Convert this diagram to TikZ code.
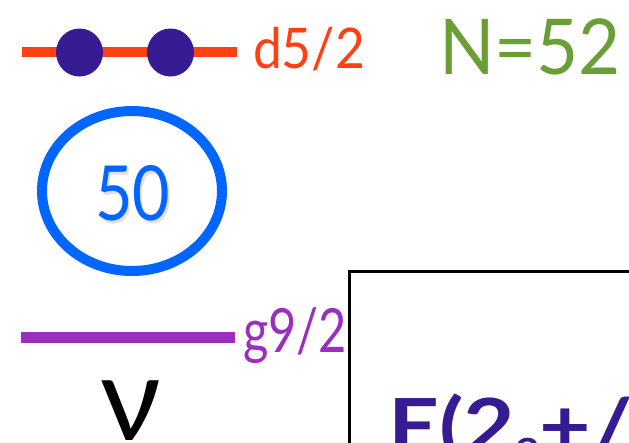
\documentclass[tikz,border=0pt]{standalone}
\usepackage{fontspec}
\usepackage{graphicx}
\setmainfont{Lato}
\definecolor{orangeL}{HTML}{FF4013}
\definecolor{dotP}{HTML}{371B93}
\definecolor{purpleL}{HTML}{9B2FBD}
\definecolor{greenN}{HTML}{6A9E37}
\definecolor{blueC}{HTML}{0066FF}
\tikzset{
  level/.style={line width=#1},
  electron/.style={fill=dotP, draw=none},
  lbl/.style={anchor=base west, inner sep=0pt, outer sep=0pt},
}
\newcommand{\wfit}[3]{\resizebox{#1}{\height}{\fontsize{#2}{#2}\selectfont #3}}
\begin{document}
\begin{tikzpicture}[x=1pt,y=-1pt]
\useasboundingbox (0,0) rectangle (629,442);
\clip (0,0) rectangle (629,442);
% d5/2 level
\coordinate (dA) at (22,52);
\coordinate (dB) at (237,52);
\draw[orangeL, level=10pt] (dA) -- (dB);
\fill[electron] (79.5,52.5) ellipse [x radius=23.5, y radius=24];
\fill[electron] (170.5,52.5) ellipse [x radius=23.5, y radius=24];
\node[lbl, text=orangeL] (dlab) at (253,68) {\wfit{112pt}{56}{d5/2}};
\node[lbl, text=greenN] (N) at (439,74) {\wfit{182pt}{77}{N=52}};
% magic number 50
\draw[blueC, line width=10pt] (132,191) ellipse [x radius=90, y radius=80];
\node[anchor=base west, inner sep=0pt, text=black, opacity=0.12] at (97,223) {\wfit{75pt}{76}{50}};
\node[anchor=base west, inner sep=0pt, text=blueC] (fifty) at (95,220) {\wfit{75pt}{76}{50}};
% g9/2 level
\coordinate (gA) at (21,337.5);
\coordinate (gB) at (235,337.5);
\draw[purpleL, level=11pt] (gA) -- (gB);
\node[lbl, text=purpleL] (glab) at (243,352) {\wfit{104pt}{61}{g9/2}};
% nu
\node[anchor=base, inner sep=0pt, font=\fontsize{118}{120}\selectfont] (nu) at (131,440) {ν};
% box
\draw[black, line width=3pt] (349,271) rectangle (720,520);
\node[lbl, text=dotP] (E) at (388,453) {\resizebox{245pt}{\height}{\bfseries\fontsize{76}{76}\selectfont E(2\raisebox{-0.15em}{\fontsize{36}{36}\selectfont 2}+/}};
\end{tikzpicture}
\end{document}
